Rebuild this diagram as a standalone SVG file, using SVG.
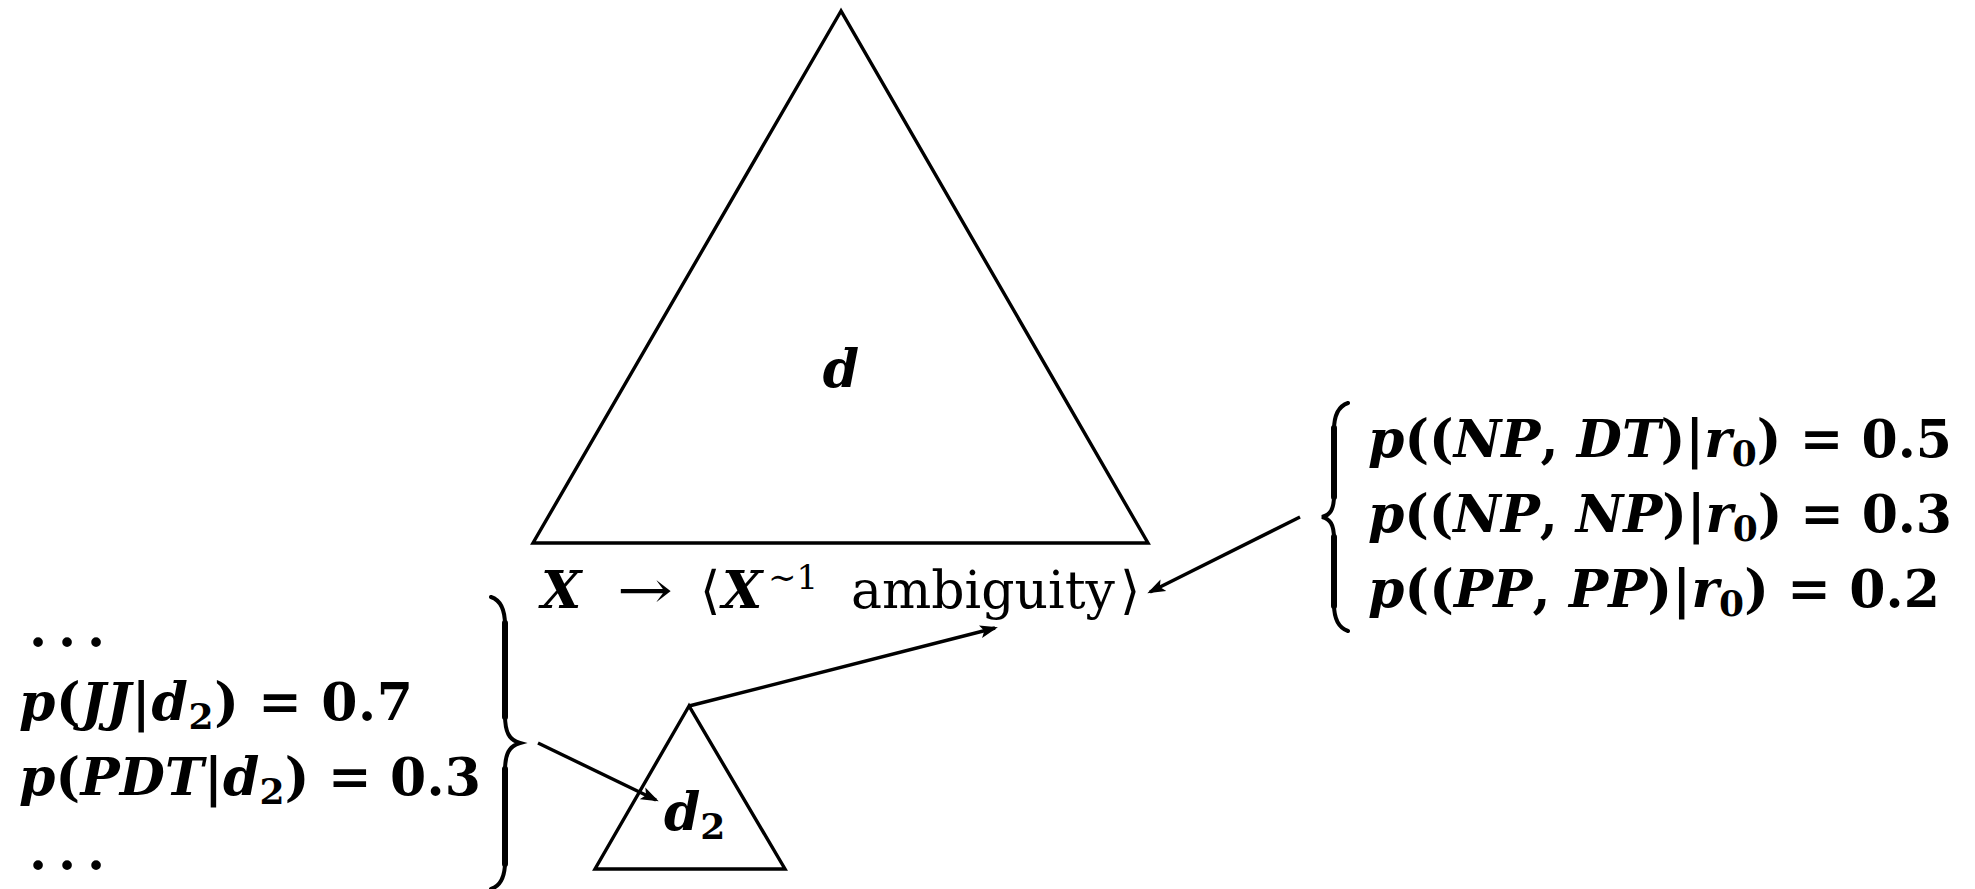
<svg xmlns="http://www.w3.org/2000/svg" width="1975" height="889" viewBox="0 0 1975 889">
<style>
  .shape { fill: none; stroke: #000; stroke-width: 3.4; stroke-linejoin: miter; }
  .conn { fill: none; stroke: #000; stroke-width: 3.4; marker-end: url(#arr); }
  .brace { fill: none; stroke: #000; stroke-width: 4; stroke-linecap: round; }
  .braceMid { fill: none; stroke: #000; stroke-width: 6; stroke-linecap: round; }
  .t { font-family: "DejaVu Serif", "Liberation Serif", serif; font-size: 52px; font-weight: bold; fill: #000; }
  .mi { font-style: italic; }
  .rm { font-weight: normal; }
</style>
<defs>
  <marker id="arr" viewBox="0 0 18 14" markerWidth="18" markerHeight="14" refX="15" refY="7" orient="auto" markerUnits="userSpaceOnUse">
    <path d="M0,0.5 L18,7 L0,13.5 L4,7 z" fill="#000"/>
  </marker>
</defs>
<rect x="0" y="0" width="1975" height="889" fill="#fff"/>

<g id="tree-d">
  <polygon class="shape" points="841,11 533,543 1148,543"/>
  <text class="t mi" x="841" y="387" text-anchor="middle">d</text>
</g>

<g id="rule">
  <text class="t" y="608"><tspan class="mi" x="541">X</tspan><tspan class="rm" x="617" textLength="56" lengthAdjust="spacingAndGlyphs">→</tspan><tspan class="rm" x="700">⟨</tspan><tspan class="mi" x="722">X</tspan><tspan class="rm" x="768" dy="-19" font-size="34">∼1</tspan><tspan class="rm" x="851" dy="19">ambiguity</tspan><tspan class="rm" x="1120">⟩</tspan></text>
</g>

<g id="tree-d2">
  <polygon class="shape" points="689,706 595,869 785,869"/>
  <text class="t" x="664" y="830"><tspan class="mi">d</tspan><tspan font-size="36" dy="9">2</tspan></text>
</g>

<g id="rule-dist">
  <path class="brace" d="M1348,403 C1339,406 1334,414 1334,430 L1334,495 C1334,510 1330,515 1322,517 C1330,519 1334,524 1334,539 L1334,604 C1334,620 1339,628 1348,631"/>
  <path class="braceMid" d="M1334,428 L1334,497 M1334,537 L1334,606"/>
  <text class="t" x="1368" y="457" textLength="584" lengthAdjust="spacing"><tspan class="mi">p</tspan>((<tspan class="mi">NP</tspan>, <tspan class="mi">DT</tspan>)|<tspan class="mi">r</tspan><tspan font-size="36" dy="9">0</tspan><tspan dy="-9">) = 0.5</tspan></text>
  <text class="t" x="1368" y="532" textLength="584" lengthAdjust="spacing"><tspan class="mi">p</tspan>((<tspan class="mi">NP</tspan>, <tspan class="mi">NP</tspan>)|<tspan class="mi">r</tspan><tspan font-size="36" dy="9">0</tspan><tspan dy="-9">) = 0.3</tspan></text>
  <text class="t" x="1368" y="607" textLength="572" lengthAdjust="spacing"><tspan class="mi">p</tspan>((<tspan class="mi">PP</tspan>, <tspan class="mi">PP</tspan>)|<tspan class="mi">r</tspan><tspan font-size="36" dy="9">0</tspan><tspan dy="-9">) = 0.2</tspan></text>
</g>

<g id="tag-dist">
  <path class="brace" d="M491,597 C500,600 505,608 505,625 L505,715 C505,732 509,740 520,743 C509,746 505,754 505,771 L505,862 C505,878 500,886 491,889"/>
  <path class="braceMid" d="M505,623 L505,717 M505,769 L505,864"/>
  <text class="t" x="29 58 87" y="646">...</text>
  <text class="t" x="19" y="720" textLength="394" lengthAdjust="spacing"><tspan class="mi">p</tspan>(<tspan class="mi">JJ</tspan>|<tspan class="mi">d</tspan><tspan font-size="36" dy="9">2</tspan><tspan dy="-9">) = 0.7</tspan></text>
  <text class="t" x="19" y="795" textLength="462" lengthAdjust="spacing"><tspan class="mi">p</tspan>(<tspan class="mi">PDT</tspan>|<tspan class="mi">d</tspan><tspan font-size="36" dy="9">2</tspan><tspan dy="-9">) = 0.3</tspan></text>
  <text class="t" x="29 58 87" y="869">...</text>
</g>

<g id="connectors">
  <line class="conn" x1="1300" y1="517" x2="1150" y2="592"/>
  <line class="conn" x1="689" y1="706" x2="995" y2="628"/>
  <line class="conn" x1="538" y1="743" x2="656" y2="800"/>
</g>
</svg>
